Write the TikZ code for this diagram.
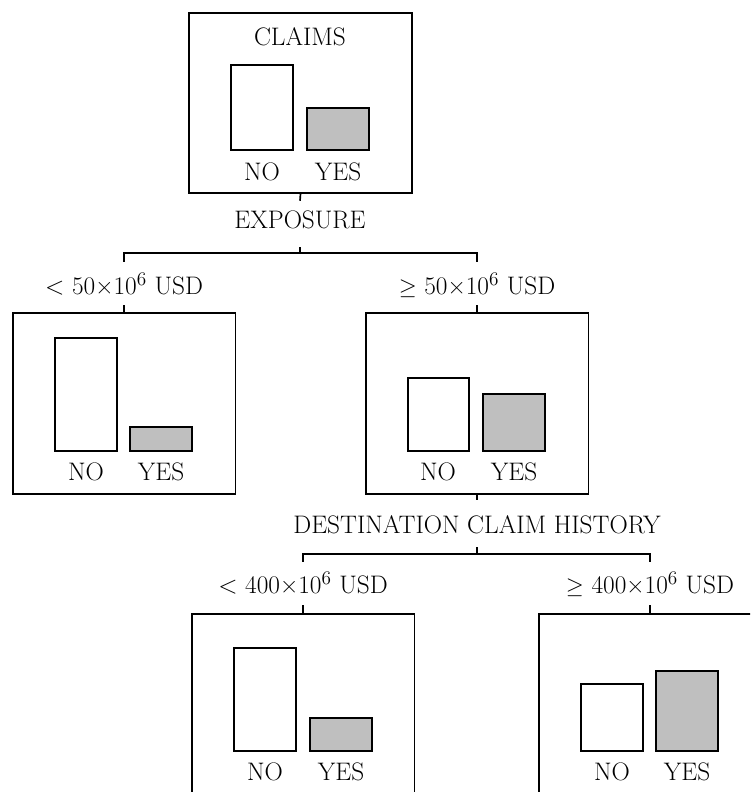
\documentclass[tikz,border=0pt]{standalone}
\usetikzlibrary{calc}
\begin{document}
\begin{tikzpicture}[x=0.75pt,y=-0.75pt,
  every node/.style={font=\fontsize{19}{22}\selectfont},
  panel/.style={draw,line width=1.25pt,inner sep=0pt,minimum width=167pt,minimum height=135.75pt},
  lbl/.style={inner sep=0pt,anchor=base},
  barno/.style={draw,line width=1.25pt,fill=white},
  baryes/.style={draw,line width=1.25pt,fill=gray!50},
  link/.style={line width=1.25pt}]
\useasboundingbox (0,0) rectangle (750,792);
\clip (0,0) rectangle (750,792);
% root
\node[panel,minimum height=135pt] (root) at (300.5,103) {};
\node[lbl] (claims) at (300,46) {CLAIMS};
\draw[barno] (231,65) rectangle (293,150);
\draw[baryes] (307,108) rectangle (369,150);
\node[lbl] (rno) at (262,180) {NO};
\node[lbl] (ryes) at (338,180) {YES};
% exposure
\node[lbl,text height=20.25pt,text depth=14.25pt] (expo) at (300,228) {EXPOSURE};
\coordinate (j1) at (300,253);
\node[lbl,text height=24pt,text depth=8.25pt] (l1) at (124,294) {< 50×10$^6$ USD};
\node[lbl,text height=24pt,text depth=8.25pt] (r1) at (477,294) {$\geq$ 50×10$^6$ USD};
\draw[link] (root.south) -- (expo.north);
\draw[link] (expo.south) -- (j1);
\draw[link] (l1.north) |- (j1) -| (r1.north);
% mid left
\node[panel] (ml) at (124,403.5) {};
\draw[link] (l1.south) -- (ml.north);
\draw[barno] (55,338) rectangle (117,451);
\draw[baryes] (130,427) rectangle (192,451);
\node[lbl] (mlno) at (86,480) {NO};
\node[lbl] (mlyes) at (161,480) {YES};
% mid right
\node[panel] (mr) at (477,403.5) {};
\draw[link] (r1.south) -- (mr.north);
\draw[barno] (408,378) rectangle (469,451);
\draw[baryes] (483,394) rectangle (545,451);
\node[lbl] (mrno) at (438,480) {NO};
\node[lbl] (mryes) at (514,480) {YES};
% destination
\node[lbl,text height=24.75pt,text depth=10.5pt] (dest) at (477,533) {DESTINATION CLAIM HISTORY};
\coordinate (j2) at (477,554);
\node[lbl,text height=23.25pt,text depth=9pt] (l2) at (303,593) {< 400×10$^6$ USD};
\node[lbl,text height=23.25pt,text depth=9pt] (r2) at (650,593) {$\geq$ 400×10$^6$ USD};
\draw[link] (mr.south) -- (dest.north);
\draw[link] (dest.south) -- (j2);
\draw[link] (l2.north) |- (j2) -| (r2.north);
% bottom left
\node[panel] (bl) at (303,704.5) {};
\draw[link] (l2.south) -- (bl.north);
\draw[barno] (234,648) rectangle (296,751);
\draw[baryes] (310,718) rectangle (372,751);
\node[lbl] (blno) at (265,780) {NO};
\node[lbl] (blyes) at (341,780) {YES};
% bottom right
\node[panel] (br) at (650,704.5) {};
\draw[link] (r2.south) -- (br.north);
\draw[barno] (581,684) rectangle (643,751);
\draw[baryes] (656,671) rectangle (718,751);
\node[lbl] (brno) at (612,780) {NO};
\node[lbl] (bryes) at (687,780) {YES};
\end{tikzpicture}
\end{document}
